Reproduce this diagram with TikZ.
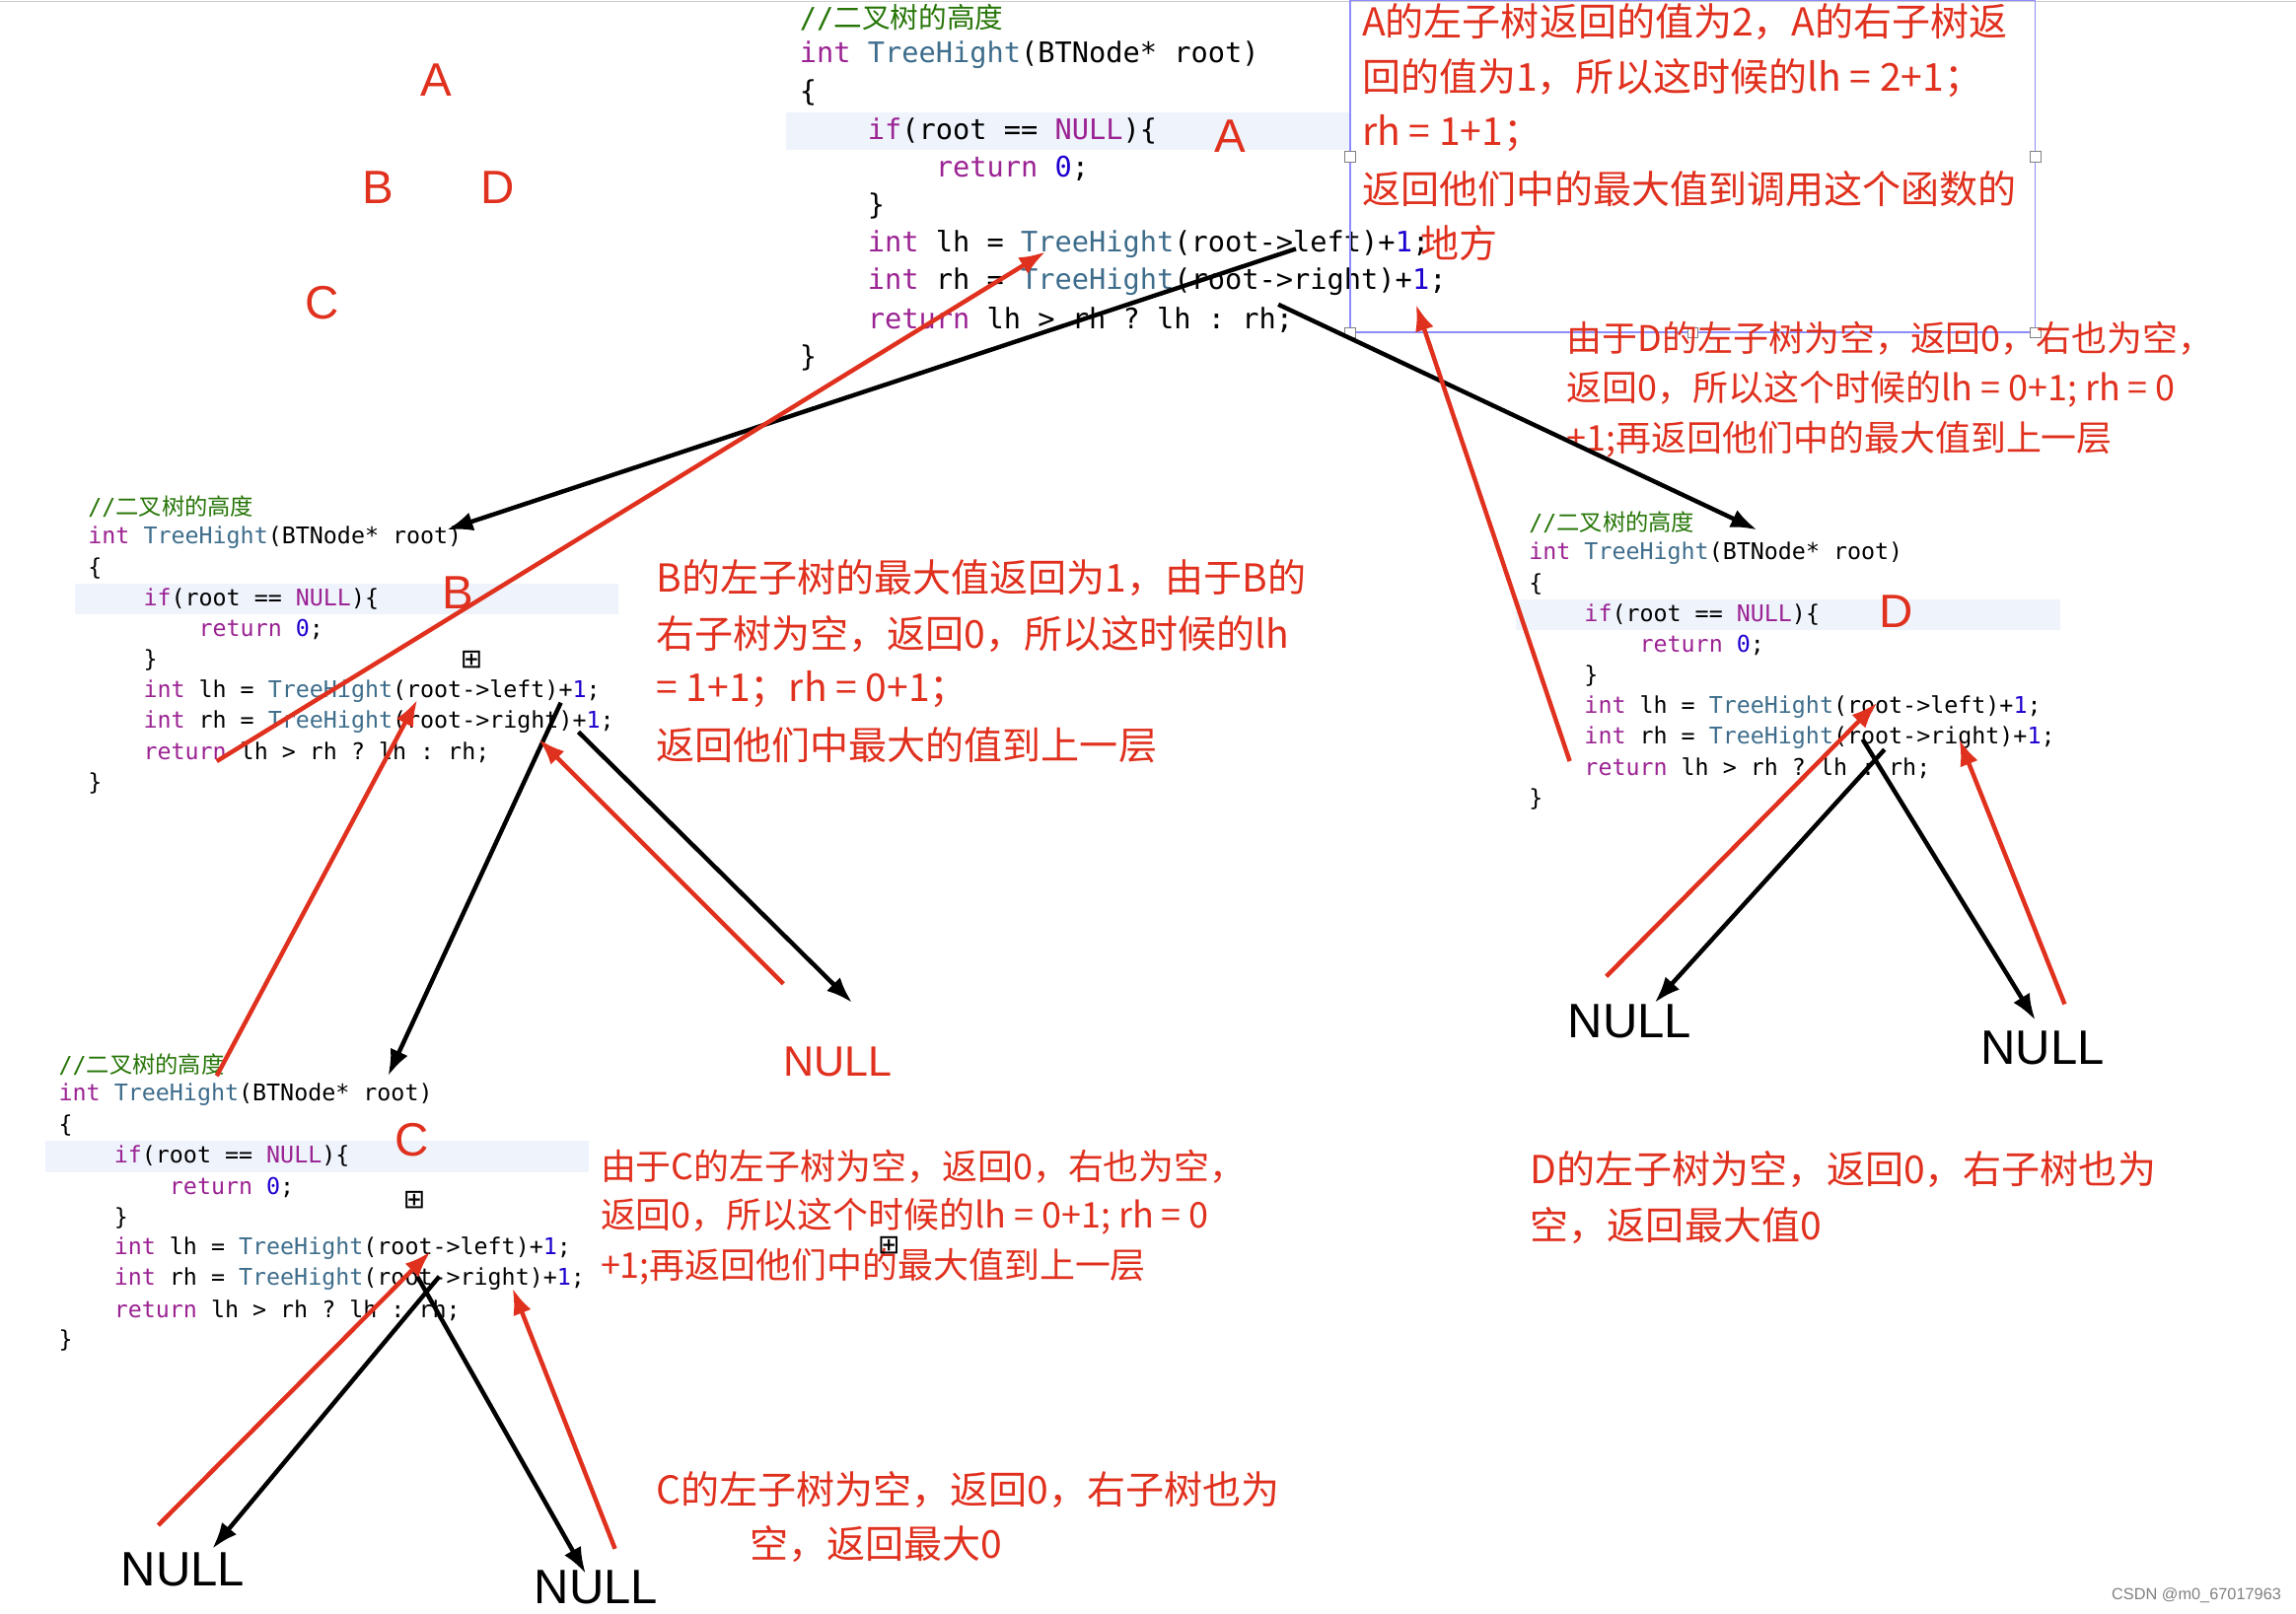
\documentclass[tikz,border=0pt]{standalone}
\usepackage{fontspec}
\setmainfont{Liberation Sans}
\setmonofont{DejaVu Sans Mono}
\newfontfamily\cjk{Noto Sans CJK SC}
\newfontfamily\dejavu{DejaVu Sans}
\usetikzlibrary{arrows.meta}
\definecolor{kw}{HTML}{9B2393}
\definecolor{fn}{HTML}{3E6D8C}
\definecolor{nm}{HTML}{1C00CF}
\definecolor{cm}{HTML}{267507}
\definecolor{hl}{HTML}{EEF3FC}
\definecolor{rd}{HTML}{E0301E}
\newcommand\kw[1]{\textcolor{kw}{#1}}
\newcommand\fn[1]{\textcolor{fn}{#1}}
\newcommand\nm[1]{\textcolor{nm}{#1}}
\newcommand\codeblk[6]{%
\begin{scope}[shift={(#1,#2)},every node/.style={anchor=west,inner sep=0pt,font=\fontsize{#3}{#3}\selectfont\ttfamily}]
\fill[hl] (-9,{3*#4-#4/2}) rectangle ({#5-#1},{3*#4+#4/2});
\node (#6l0) at (0,0) {\textcolor{cm}{//\cjk 二叉树的高度}};
\node (#6l1) at (0,{#4}) {\kw{int} \fn{TreeHight}(BTNode* root)};
\node (#6l2) at (0,{2*#4}) {\{};
\node (#6l3) at ({2.408*#3},{3*#4}) {\kw{if}(root == \kw{NULL})\{};
\node (#6l4) at ({4.816*#3},{4*#4}) {\kw{return} \nm{0};};
\node (#6l5) at ({2.408*#3},{5*#4}) {\}};
\node (#6l6) at ({2.408*#3},{6*#4}) {\kw{int} lh = \fn{TreeHight}(root->left)+\nm{1};};
\node (#6l7) at ({2.408*#3},{7*#4}) {\kw{int} rh = \fn{TreeHight}(root->right)+\nm{1};};
\node (#6l8) at ({2.408*#3},{8*#4}) {\kw{return} lh > rh ? lh : rh;};
\node (#6l9) at (0,{9*#4}) {\}};
\end{scope}}
\tikzset{
  blk/.style={line width=3pt,-{Latex[length=18pt,width=13pt]}},
  red/.style={blk,draw=rd},
  ctext/.style={anchor=west,inner sep=0pt,text=rd,font=\fontsize{26.3}{26.3}\selectfont\cjk},
  stext/.style={ctext,font=\fontsize{24.2}{24.2}\selectfont\cjk},
  lett/.style={text=rd,font=\fontsize{32}{32}\selectfont},
  nul/.style={font=\fontsize{33}{33}\selectfont},
  plus/.style={font=\fontsize{18}{18}\selectfont\dejavu,inner sep=0pt}
}
\begin{document}
\begin{tikzpicture}[x=1pt,y=-1pt]
\useasboundingbox (0,0) rectangle (1568,1102);
\draw[gray!40,line width=1pt] (0,1) -- (1568,1);
\codeblk{546}{12}{19.3}{25.8}{922}{t}
\codeblk{60}{346}{15.7}{21}{422}{b}
\codeblk{1044}{357}{15.7}{21}{1407}{d}
\codeblk{40}{727}{15.7}{21}{402}{c}
% selection box
\draw[blue!45,line width=0.8pt] (922,0) rectangle (1390,227);
\foreach \p in {(922,107),(1390,107),(922,227),(1390,227),(1156,227)}
  \draw[gray,fill=white] \p ++(-3.5,-3.5) rectangle ++(7,7);
% letters
\node[lett] (LA) at (298,55) {A};
\node[lett] (LB) at (258,128) {B};
\node[lett] (LD) at (340,128) {D};
\node[lett] (LC) at (220,207) {C};
\node[lett] (TA) at (840,93) {A};
\node[lett] (TB) at (313,405) {B};
\node[lett] (TD) at (1295,418) {D};
\node[lett] (TC) at (281,779) {C};
% texts
\node[ctext] (a1) at (930,15) {A的左子树返回的值为2，A的右子树返};
\node[ctext] (a2) at (930,53) {回的值为1，所以这时候的lh = 2+1；};
\node[ctext] (a3) at (930,91) {rh = 1+1；};
\node[ctext] (a4) at (930,129) {返回他们中的最大值到调用这个函数的};
\node[ctext] (a5) at (970,166) {地方};
\node[stext] (d1) at (1070,231) {由于D的左子树为空，返回0，右也为空，};
\node[stext] (d2) at (1070,266) {返回0，所以这个时候的lh = 0+1; rh = 0};
\node[stext] (d3) at (1070,300) {+1;再返回他们中的最大值到上一层};
\node[ctext] (b1) at (448,395) {B的左子树的最大值返回为1，由于B的};
\node[ctext] (b2) at (448,433) {右子树为空，返回0，所以这时候的lh};
\node[ctext] (b3) at (448,471) {= 1+1；rh = 0+1；};
\node[ctext] (b4) at (448,509) {返回他们中最大的值到上一层};
\node[stext] (c1) at (410,797) {由于C的左子树为空，返回0，右也为空，};
\node[stext] (c2) at (410,831) {返回0，所以这个时候的lh = 0+1; rh = 0};
\node[stext] (c3) at (410,865) {+1;再返回他们中的最大值到上一层};
\node[ctext] (e1) at (1045,799) {D的左子树为空，返回0，右子树也为};
\node[ctext] (e2) at (1045,837) {空，返回最大值0};
\node[ctext] (f1) at (448,1018) {C的左子树为空，返回0，右子树也为};
\node[ctext] (f2) at (512,1055) {空，返回最大0};
% NULLs
\node[nul,text=rd,font=\fontsize{29}{29}\selectfont] (n1) at (572,725) {NULL};
\node[nul] (n2) at (1113,698) {NULL};
\node[nul] (n3) at (1395,716) {NULL};
\node[nul] (n4) at (125,1072) {NULL};
\node[nul] (n5) at (407,1084) {NULL};
\node[plus] (p1) at (322,451) {⊞};
\node[plus] (p2) at (283,820) {⊞};
\node[plus] (p3) at (607,851) {⊞};
\node[text=gray,font=\fontsize{11}{11}\selectfont] (wm) at (1500,1090) {CSDN @m0\_67017963};
% coordinates
\coordinate (s1) at (885,170); \coordinate (e1b) at (305,362);
\coordinate (s2) at (873,208); \coordinate (e2b) at (1200,362);
\coordinate (s3) at (383,480); \coordinate (e3) at (265,735);
\coordinate (s4) at (395,500); \coordinate (e4) at (582,685);
\coordinate (s5) at (1287,512); \coordinate (e5) at (1130,685);
\coordinate (s6) at (1272,505); \coordinate (e6) at (1390,697);
\coordinate (s7) at (300,872); \coordinate (e7) at (145,1058);
\coordinate (s8) at (285,872); \coordinate (e8) at (400,1075);
\coordinate (r1s) at (148,520); \coordinate (r1e) at (714,172);
\coordinate (r2s) at (1072,520); \coordinate (r2e) at (967,208);
\coordinate (r3s) at (535,672); \coordinate (r3e) at (368,505);
\coordinate (r4s) at (148,735); \coordinate (r4e) at (285,478);
\coordinate (r5s) at (1097,667); \coordinate (r5e) at (1282,480);
\coordinate (r6s) at (1410,686); \coordinate (r6e) at (1338,505);
\coordinate (r7s) at (108,1042); \coordinate (r7e) at (294,855);
\coordinate (r8s) at (420,1058); \coordinate (r8e) at (350,880);
\foreach \a/\b in {s1/e1b,s2/e2b,s3/e3,s4/e4,s5/e5,s6/e6,s7/e7,s8/e8}
  \draw[blk] (\a) -- (\b);
\foreach \a/\b in {r1s/r1e,r2s/r2e,r3s/r3e,r4s/r4e,r5s/r5e,r6s/r6e,r7s/r7e,r8s/r8e}
  \draw[red] (\a) -- (\b);
\end{tikzpicture}
\end{document}
